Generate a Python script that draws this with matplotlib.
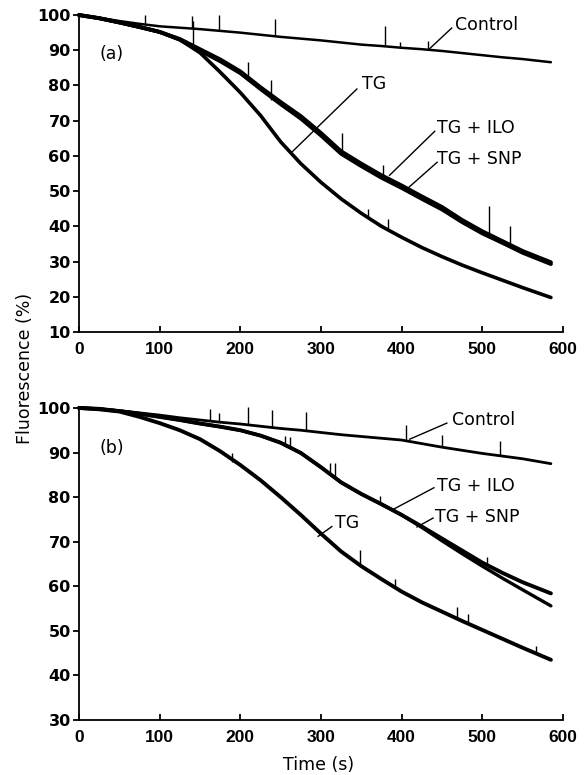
import matplotlib
matplotlib.use("Agg")
import matplotlib.pyplot as plt

# ---------------- data ----------------
time_s = [0, 25, 50, 75, 100, 125, 150, 175, 200, 225, 250, 275, 300, 325,
          350, 375, 400, 425, 450, 475, 500, 525, 550, 585]

# panel (a)
control_a = [100, 99.2, 98.3, 97.5, 96.8, 96.4, 96.0, 95.5, 95.0, 94.4, 93.8, 93.3,
             92.8, 92.2, 91.6, 91.2, 90.7, 90.3, 89.8, 89.2, 88.6, 88.0, 87.5, 86.6]
tg_a = [100, 99.1, 97.9, 96.6, 95.2, 93.0, 89.3, 83.8, 78.0, 71.5, 64.0, 57.8,
        52.5, 47.8, 43.7, 40.0, 36.9, 34.0, 31.4, 29.0, 26.8, 24.7, 22.6, 19.8]
tg_ilo_a = [100, 99.1, 97.9, 96.6, 95.2, 93.2, 90.3, 87.4, 84.0, 79.5, 75.3, 71.3,
            66.5, 61.3, 57.8, 54.5, 51.6, 48.5, 45.5, 41.8, 38.6, 35.8, 33.0, 29.8]
tg_snp_a = [100, 99.1, 97.9, 96.6, 95.2, 93.0, 89.9, 86.9, 83.5, 79.0, 74.7, 70.6,
            65.8, 60.6, 57.1, 53.8, 50.9, 47.8, 44.8, 41.2, 38.0, 35.3, 32.5, 29.3]

# panel (b)
control_b = [100, 99.8, 99.4, 98.9, 98.4, 97.8, 97.3, 96.8, 96.4, 95.9, 95.4, 95.0,
             94.5, 94.0, 93.6, 93.2, 92.8, 92.0, 91.2, 90.5, 89.8, 89.2, 88.6, 87.5]
tg_ilo_b = [100, 99.8, 99.3, 98.7, 98.0, 97.3, 96.5, 95.8, 95.0, 93.8, 92.2, 89.9,
            86.7, 83.3, 80.7, 78.4, 76.0, 73.4, 70.7, 68.0, 65.3, 63.0, 60.9, 58.4]
tg_snp_b = [100, 99.8, 99.3, 98.7, 98.0, 97.3, 96.5, 95.8, 95.0, 93.8, 92.2, 89.9,
            86.7, 83.3, 80.7, 78.4, 76.0, 73.2, 70.2, 67.3, 64.5, 61.8, 59.2, 55.6]
tg_b = [100, 99.7, 99.2, 98.0, 96.6, 95.0, 93.0, 90.3, 87.2, 83.8, 80.0, 76.0,
        71.8, 67.8, 64.5, 61.6, 58.8, 56.4, 54.3, 52.2, 50.2, 48.2, 46.2, 43.5]

# spikes: (time, low, high)
spikes_a = [(82, 97.5, 100.0), (140, 96.2, 99.7), (173, 95.5, 100.0), (243, 94.0, 99.0),
            (379, 91.1, 96.9), (433, 90.1, 92.7), (398, 90.7, 92.3),
            (141, 91.2, 98.4), (210, 82.0, 86.7), (238, 76.0, 81.5), (326, 61.5, 66.5),
            (377, 54.2, 57.4), (508, 38.2, 45.7), (534, 35.3, 40.0),
            (358, 42.5, 44.8), (383, 39.5, 42.0)]
spikes_b = [(162, 97.1, 99.8), (174, 96.8, 98.9), (210, 96.3, 100.2), (239, 95.6, 99.6),
            (282, 94.9, 99.1), (405, 92.7, 96.2), (450, 91.2, 93.9), (522, 89.3, 92.6),
            (255, 91.8, 93.7), (261, 91.3, 93.4), (311, 85.4, 87.7), (317, 84.5, 87.7),
            (373, 78.6, 80.3), (506, 64.8, 66.6),
            (190, 87.8, 90.0), (348, 64.6, 68.1), (392, 59.7, 61.6), (469, 52.7, 55.4),
            (482, 51.6, 53.7), (567, 45.0, 46.5)]

x_ticks = [0, 100, 200, 300, 400, 500, 600]
y_ticks_a = [10, 20, 30, 40, 50, 60, 70, 80, 90, 100]
y_ticks_b = [30, 40, 50, 60, 70, 80, 90, 100]

# ---------------- figure ----------------
fig = plt.figure(figsize=(5.85, 7.75), dpi=100)
ax_a = fig.add_axes([0.1350, 0.5716, 0.8274, 0.4090])
ax_b = fig.add_axes([0.1350, 0.0710, 0.8274, 0.4026])

LBL = dict(fontsize=12.5, family="DejaVu Sans", color="black")


def style(ax, ylim, yticks):
    ax.set_xlim(0, 600)
    ax.set_ylim(*ylim)
    ax.set_xticks(x_ticks)
    ax.set_yticks(yticks)
    for s in ("top", "right"):
        ax.spines[s].set_visible(False)
    for s in ("left", "bottom"):
        ax.spines[s].set_linewidth(1.3)
    ax.tick_params(axis="x", direction="in", length=4, width=1.3, pad=7)
    ax.tick_params(axis="y", direction="out", length=4, width=1.3, pad=2)
    for lab in ax.get_xticklabels():
        lab.set_fontfamily("Liberation Sans")
        lab.set_fontweight("bold")
        lab.set_fontsize(12.5)
    for lab in ax.get_yticklabels():
        lab.set_fontfamily("DejaVu Sans")
        lab.set_fontweight("bold")
        lab.set_fontsize(11.5)


def draw(ax, series, spikes):
    for ys, lw in series:
        ax.plot(time_s, ys, color="black", lw=lw, clip_on=False,
                solid_joinstyle="round", solid_capstyle="round")
    ax.vlines([s[0] for s in spikes], [s[1] for s in spikes], [s[2] for s in spikes],
              color="black", lw=1.0, clip_on=False)


draw(ax_a, [(control_a, 1.8), (tg_a, 2.6), (tg_ilo_a, 2.8), (tg_snp_a, 2.8)], spikes_a)
draw(ax_b, [(control_b, 2.0), (tg_b, 2.8), (tg_ilo_b, 2.8), (tg_snp_b, 2.4)], spikes_b)

style(ax_a, (10, 100), y_ticks_a)
style(ax_b, (30, 100), y_ticks_b)


def label(ax, text, tx, ty, p0, p1):
    ax.plot([p0[0], p1[0]], [p0[1], p1[1]], color="black", lw=1.0)
    ax.text(tx, ty, text, ha="left", va="center", **LBL)


label(ax_a, "Control", 466, 97.2, (462, 96.3), (434, 90.3))
label(ax_a, "TG", 351, 80.3, (344.5, 79.0), (264, 61.1))
label(ax_a, "TG + ILO", 444, 68.0, (441, 67.0), (385, 54.5))
label(ax_a, "TG + SNP", 444, 59.1, (444, 58.2), (408, 50.9))
ax_a.text(26, 88.9, "(a)", ha="left", va="center", **LBL)

label(ax_b, "Control", 462, 97.4, (456, 96.6), (410, 93.0))
label(ax_b, "TG + ILO", 444, 82.4, (440, 82.1), (388, 77.1))
label(ax_b, "TG + SNP", 441, 75.5, (439, 75.3), (419, 73.3))
label(ax_b, "TG", 317, 74.1, (313.5, 73.4), (296.5, 71.2))
ax_b.text(26, 91.0, "(b)", ha="left", va="center", **LBL)

fig.text(0.043, 0.525, "Fluorescence (%)", rotation=90, ha="center", va="center",
         fontsize=12.5, family="DejaVu Sans")
fig.text(0.544, 0.013, "Time (s)", ha="center", va="center",
         fontsize=12.5, family="DejaVu Sans")

fig.savefig("out.png", dpi=100, facecolor="white")
